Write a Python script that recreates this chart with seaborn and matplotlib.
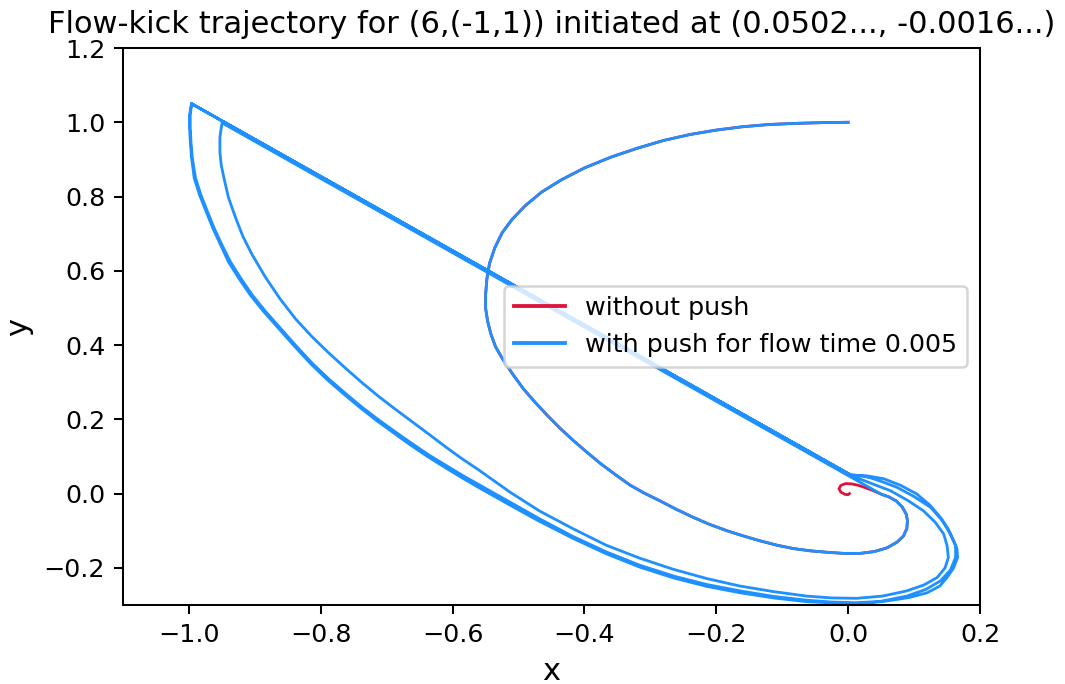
import matplotlib
matplotlib.use("Agg")
import matplotlib.pyplot as plt
import numpy as np
import pandas as pd
import seaborn as sns

# ---- data ----
# common flow from (0, 1) down to the starting point (0.0502, -0.0016)
flow_x = [0.000, -0.040, -0.080, -0.120, -0.160, -0.200, -0.240, -0.280, -0.320, -0.360,
          -0.400, -0.435, -0.465, -0.490, -0.510, -0.525, -0.536, -0.544, -0.548, -0.550,
          -0.550, -0.547, -0.542, -0.535, -0.524, -0.509, -0.493, -0.475, -0.456, -0.437,
          -0.417, -0.396, -0.375, -0.353, -0.331, -0.309, -0.286, -0.261, -0.235, -0.210,
          -0.184, -0.159, -0.134, -0.108, -0.083, -0.058, -0.032, -0.007, 0.018, 0.040,
          0.059, 0.074, 0.084, 0.089, 0.090, 0.088, 0.082, 0.073, 0.062, 0.0502]
flow_y = [1.000, 0.999, 0.997, 0.994, 0.988, 0.979, 0.967, 0.951, 0.930, 0.906,
          0.877, 0.845, 0.812, 0.775, 0.738, 0.702, 0.662, 0.620, 0.578, 0.535,
          0.500, 0.465, 0.430, 0.396, 0.362, 0.322, 0.283, 0.246, 0.210, 0.176,
          0.143, 0.111, 0.080, 0.051, 0.023, 0.001, -0.019, -0.042, -0.064, -0.083,
          -0.100, -0.114, -0.127, -0.139, -0.148, -0.154, -0.158, -0.161, -0.161, -0.156,
          -0.146, -0.131, -0.114, -0.094, -0.073, -0.055, -0.036, -0.020, -0.009, -0.0016]

# without push: the flow keeps spiralling into the origin
tail_x = [0.038, 0.026, 0.016, 0.006, -0.004, -0.011, -0.014, -0.011, -0.005, 0.000, 0.002]
tail_y = [0.008, 0.016, 0.022, 0.026, 0.027, 0.022, 0.013, 0.004, -0.002, -0.003, 0.000]

# with push: kicked by (-1, 1), then flow for 6 time units, repeated
cycle1_x = [-0.9498, -0.953, -0.953, -0.951, -0.947, -0.940, -0.929, -0.918, -0.904, -0.884,
            -0.862, -0.838, -0.813, -0.788, -0.762, -0.737, -0.711, -0.686, -0.661, -0.636,
            -0.610, -0.585, -0.559, -0.536, -0.513, -0.490, -0.468, -0.418, -0.367, -0.316,
            -0.265, -0.214, -0.164, -0.113, -0.063, -0.025, 0.013, 0.052, 0.089, 0.115,
            0.135, 0.147, 0.152, 0.150, 0.145, 0.132, 0.114, 0.090, 0.064, 0.040,
            0.020, 0.004]
cycle1_y = [0.9984, 0.960, 0.920, 0.885, 0.851, 0.797, 0.742, 0.692, 0.643, 0.583,
            0.525, 0.470, 0.422, 0.379, 0.337, 0.298, 0.260, 0.226, 0.193, 0.160,
            0.125, 0.093, 0.062, 0.033, 0.004, -0.022, -0.047, -0.094, -0.139, -0.174,
            -0.204, -0.229, -0.249, -0.264, -0.276, -0.281, -0.282, -0.276, -0.262, -0.246,
            -0.226, -0.200, -0.172, -0.140, -0.109, -0.077, -0.046, -0.018, 0.008, 0.024,
            0.038, 0.050]

cycle2_x = [-0.996, -0.998, -0.998, -0.997, -0.995, -0.990, -0.982, -0.972, -0.962, -0.950,
            -0.937, -0.921, -0.904, -0.884, -0.863, -0.838, -0.813, -0.788, -0.762, -0.737,
            -0.711, -0.686, -0.661, -0.636, -0.610, -0.585, -0.559, -0.533, -0.508, -0.468,
            -0.418, -0.367, -0.316, -0.265, -0.214, -0.164, -0.113, -0.063, -0.025, 0.013,
            0.050, 0.089, 0.118, 0.140, 0.155, 0.163, 0.163, 0.155, 0.143, 0.125,
            0.100, 0.074, 0.050, 0.033, 0.015, 0.004]
cycle2_y = [1.050, 1.020, 0.985, 0.950, 0.905, 0.850, 0.805, 0.760, 0.716, 0.670,
            0.624, 0.579, 0.535, 0.491, 0.449, 0.399, 0.351, 0.309, 0.269, 0.232,
            0.197, 0.165, 0.134, 0.104, 0.076, 0.049, 0.023, -0.003, -0.028, -0.068,
            -0.115, -0.157, -0.193, -0.222, -0.245, -0.262, -0.277, -0.287, -0.292, -0.294,
            -0.290, -0.276, -0.258, -0.235, -0.206, -0.172, -0.140, -0.109, -0.073, -0.037,
            -0.008, 0.017, 0.033, 0.043, 0.049, 0.050]

cycle3_x = [-0.996, -0.999, -0.999, -0.998, -0.996, -0.992, -0.984, -0.974, -0.964, -0.952,
            -0.940, -0.924, -0.907, -0.887, -0.866, -0.841, -0.816, -0.791, -0.765, -0.740,
            -0.714, -0.689, -0.664, -0.639, -0.613, -0.588, -0.562, -0.536, -0.511, -0.470,
            -0.418, -0.367, -0.316, -0.265, -0.214, -0.164, -0.113, -0.063, -0.030, 0.000,
            0.030, 0.059, 0.092, 0.120, 0.139, 0.150, 0.160, 0.166, 0.165, 0.160,
            0.152, 0.140, 0.124, 0.104, 0.080, 0.054, 0.028, 0.004, -0.996]
cycle3_y = [1.050, 1.020, 0.985, 0.950, 0.905, 0.850, 0.805, 0.760, 0.716, 0.670,
            0.624, 0.579, 0.535, 0.491, 0.449, 0.399, 0.351, 0.308, 0.268, 0.231,
            0.195, 0.163, 0.131, 0.101, 0.072, 0.045, 0.018, -0.008, -0.033, -0.073,
            -0.120, -0.162, -0.198, -0.227, -0.250, -0.267, -0.281, -0.291, -0.294, -0.296,
            -0.295, -0.289, -0.280, -0.267, -0.249, -0.226, -0.200, -0.172, -0.148, -0.127,
            -0.096, -0.064, -0.031, -0.001, 0.022, 0.040, 0.048, 0.050, 1.050]

red_df = pd.DataFrame({"x": flow_x + tail_x, "y": flow_y + tail_y})
blue_df = pd.DataFrame({"x": flow_x + cycle1_x + cycle2_x + cycle3_x,
                        "y": flow_y + cycle1_y + cycle2_y + cycle3_y})

DPI = 183
fig = plt.figure(figsize=(1065 / DPI, 684 / DPI), dpi=DPI)
ax = fig.add_axes([123 / 1065, 79 / 684, 857 / 1065, 557 / 684])

sns.lineplot(data=red_df, x="x", y="y", sort=False, estimator=None,
             color="crimson", lw=1.1, solid_joinstyle="round",
             label="without push", ax=ax)
sns.lineplot(data=blue_df, x="x", y="y", sort=False, estimator=None,
             color="dodgerblue", lw=1.1, solid_joinstyle="round",
             label="with push for flow time 0.005", ax=ax)

ax.set_xlim(-1.1, 0.2)
ax.set_ylim(-0.3, 1.2)
ax.set_xlabel("x", fontsize=12)
ax.set_ylabel("y", fontsize=12)
ax.set_title("Flow-kick trajectory for (6,(-1,1)) initiated at (0.0502..., -0.0016...)", fontsize=12)
leg = ax.legend(loc="center right", fontsize=10)
for line in leg.get_lines():
    line.set_linewidth(1.5)

fig.savefig("out.png", dpi=DPI)
